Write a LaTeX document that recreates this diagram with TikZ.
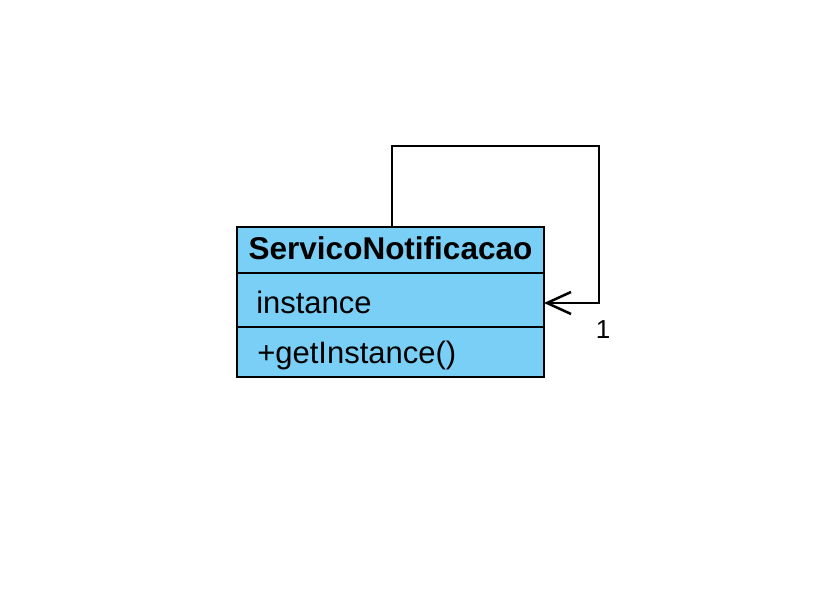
\documentclass[tikz,border=0pt]{standalone}
\usepackage{fontspec}
\setmainfont{Liberation Sans}
\usetikzlibrary{arrows.meta}
\definecolor{classblue}{HTML}{79CFF5}

\begin{document}
\begin{tikzpicture}[x=1pt,y=-1pt,line width=2.5pt,
  compartment/.style={draw=black,fill=classblue,minimum width=307pt,inner sep=0pt,outer sep=0pt,anchor=north west},
  classtext/.style={inner sep=0pt,font=\fontsize{31}{36}\selectfont},
  assoc/.style={-{Straight Barb[length=24pt,width=22pt]},line join=miter}]
\useasboundingbox (0,0) rectangle (832,594);

\node[compartment,minimum height=46pt] (name) at (237,227) {};
\node[compartment,minimum height=54pt] (attr) at (237,273) {};
\node[compartment,minimum height=50pt] (meth) at (237,327) {};

\node[classtext,font=\bfseries\fontsize{31.5}{36}\selectfont,anchor=base] (title) at (390.5,259) {ServicoNotificacao};
\node[classtext,anchor=base west] (instance) at (255,313) {instance};
\node[classtext,anchor=base west] (getinst) at (256,363) {+getInstance()};

\coordinate (loopa) at (599,146);
\coordinate (loopb) at (599,303);
\draw[assoc] ([xshift=1.5pt]name.north) |- (loopa) -- (loopb) -- (attr.east |- loopb);
\node[inner sep=0pt,font=\fontsize{26}{30}\selectfont] (mult) at (603,330) {1};
\end{tikzpicture}
\end{document}
